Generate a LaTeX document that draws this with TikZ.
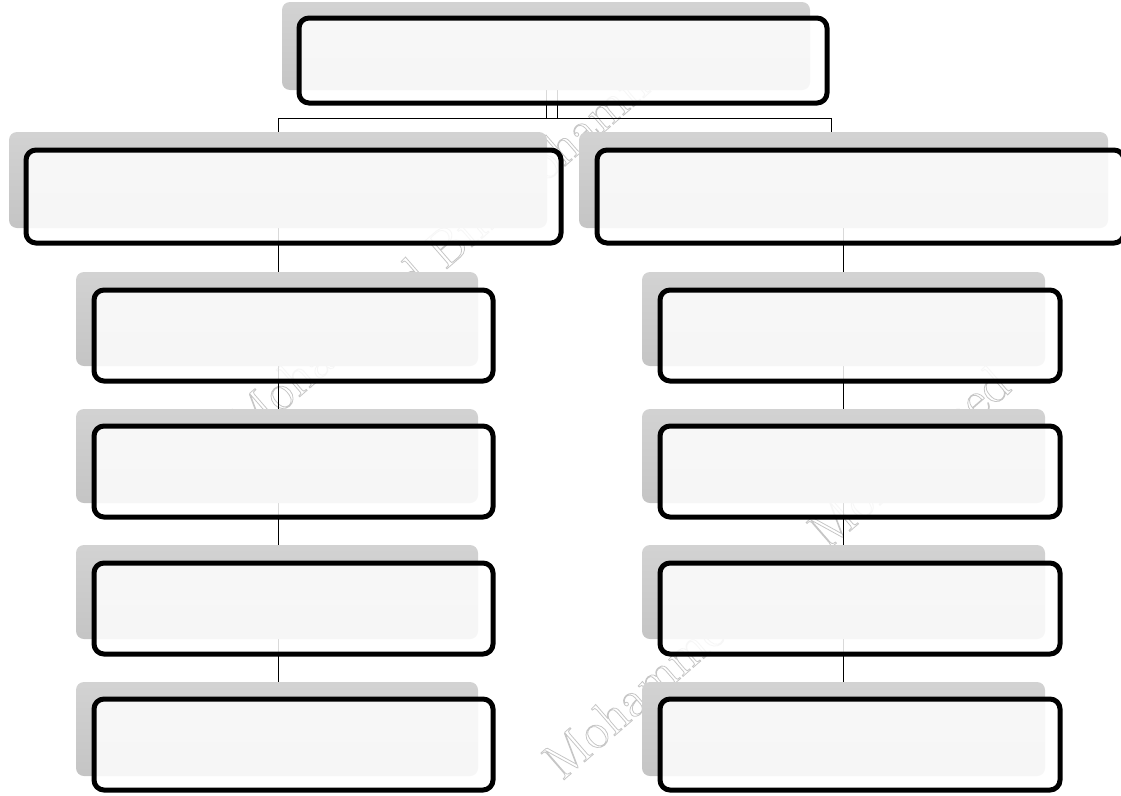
\documentclass[tikz,border=0pt]{standalone}
\usetikzlibrary{calc}
\pgfdeclarelayer{wm}
\pgfdeclarelayer{lines}
\pgfsetlayers{wm,lines,main}
\tikzset{
  shadowbox/.style={rectangle, rounded corners=8pt, draw=none, top color=gray!35, bottom color=gray!46, inner sep=0pt, outer sep=0pt, anchor=north west},
  mainbox/.style={rectangle, rounded corners=10pt, draw=black, line width=5pt, fill=white, fill opacity=0.85, inner sep=0pt, outer sep=0pt, anchor=north west},
  conn/.style={draw=black, line width=0.9pt},
  wmark/.style={text=gray!45, font=\fontsize{52}{60}\selectfont, rotate=41, inner sep=0pt}
}
\newcommand{\outlinetext}[1]{\special{pdf:code 1 Tr 0.8 w}#1\special{pdf:code 0 Tr}}
\begin{document}
\begin{tikzpicture}[x=1pt,y=-1pt]
\useasboundingbox (0,0) rectangle (1121,795);
% watermark
\begin{pgfonlayer}{wm}
\node[wmark] (wm1) at (461,233) {\outlinetext{Mohammed Bin Mohammed}};
\node[wmark] (wm2) at (776,572) {\outlinetext{Mohammed Bin Mohammed}};
\end{pgfonlayer}
% shadows
\node[shadowbox, minimum width=528pt, minimum height=88pt] (s-top) at (282,2) {};
\node[shadowbox, minimum width=538pt, minimum height=96pt] (s-ml) at (9,132) {};
\node[shadowbox, minimum width=529pt, minimum height=96pt] (s-mr) at (579,132) {};
\foreach \i/\y in {1/272,2/409,3/545,4/682}{
  \node[shadowbox, minimum width=402pt, minimum height=94pt] (s-l\i) at (76,\y) {};
  \node[shadowbox, minimum width=403pt, minimum height=94pt] (s-r\i) at (642,\y) {};
}
% boxes
\node[mainbox, minimum width=528pt, minimum height=85pt] (top) at (299,18) {};
\node[mainbox, minimum width=535pt, minimum height=93pt] (ml) at (26,150) {};
\node[mainbox, minimum width=527pt, minimum height=93pt] (mr) at (597,150) {};
\foreach \i/\y in {1/290,2/426,3/563,4/699}{
  \node[mainbox, minimum width=399pt, minimum height=91pt] (l\i) at (94,\y) {};
  \node[mainbox, minimum width=400pt, minimum height=91pt] (r\i) at (660,\y) {};
}
% connectors
\coordinate (hl) at (278,118);
\coordinate (hr) at (831,118);
\begin{pgfonlayer}{lines}
\draw[conn] (s-top.south) -- (s-top.south |- hl);
\draw[conn] ($(s-top.south)+(11,0)$) -- ($(s-top.south |- hl)+(11,0)$);
\draw[conn] (s-ml.north) -- (s-ml.north |- hl) -- (hr) -- (hr |- s-mr.north);
\draw[conn] (s-ml.south) -- (s-ml.south |- s-l4.north);
\draw[conn] (s-mr.south) -- (s-mr.south |- s-r4.north);
\end{pgfonlayer}
\end{tikzpicture}
\end{document}
